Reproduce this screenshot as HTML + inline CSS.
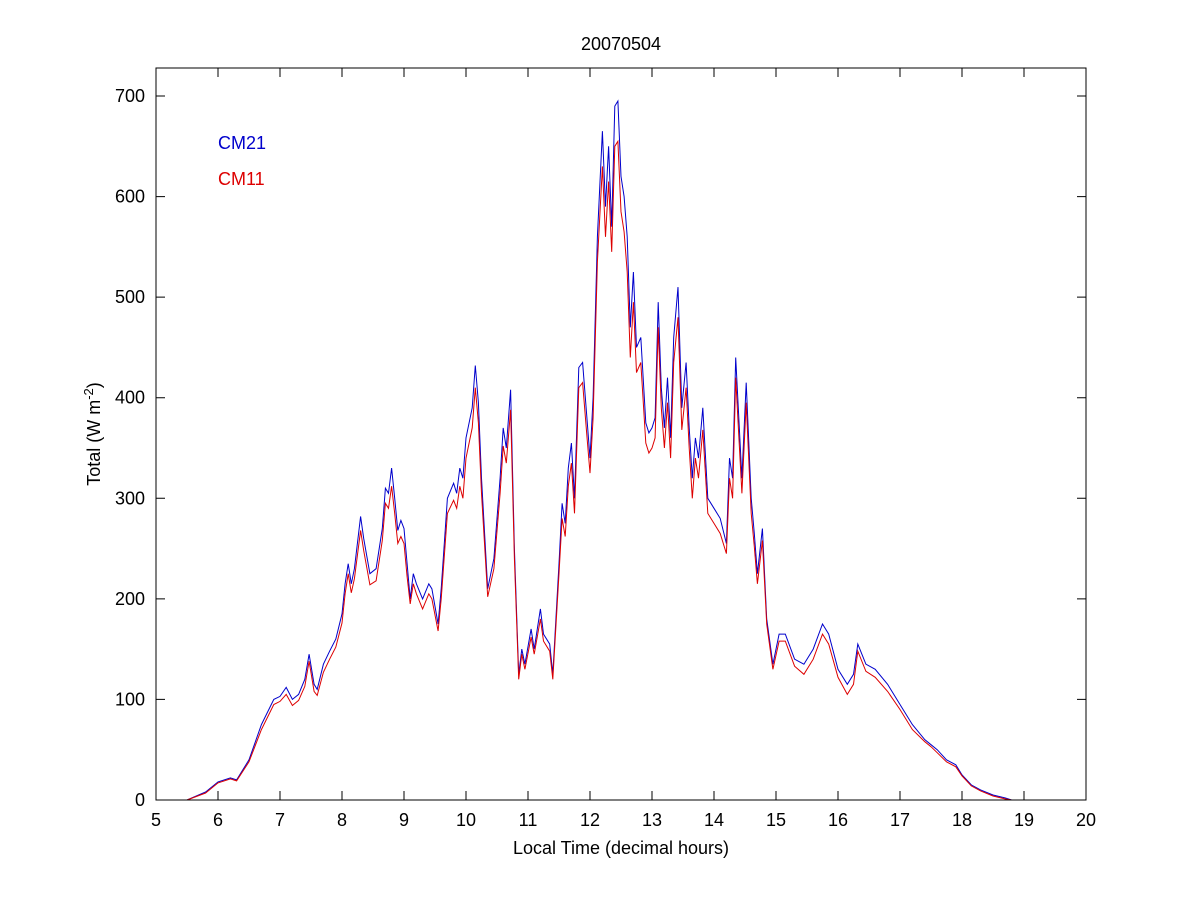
<!DOCTYPE html>
<html><head><meta charset="utf-8">
<style>
html,body{margin:0;padding:0;background:#fff;}
svg{display:block;font-family:"Liberation Sans",Arial,sans-serif;}
</style></head>
<body>
<svg id="chart" width="1200" height="900" viewBox="0 0 1200 900" xmlns="http://www.w3.org/2000/svg">
<rect x="0" y="0" width="1200" height="900" fill="#fff"/>
<text x="621" y="50" font-size="18" text-anchor="middle">20070504</text>
<g id="grid"></g>
<g id="series"></g>
<rect x="156" y="68" width="930" height="732" fill="none" stroke="#000" stroke-width="1"/>
<g id="ticks"></g>
<text x="621" y="854" font-size="18" text-anchor="middle">Local Time (decimal hours)</text>
<text transform="translate(100,434) rotate(-90)" font-size="18" text-anchor="middle">Total (W m<tspan dy="-7" font-size="13">-2</tspan><tspan dy="7">)</tspan></text>
<text x="218" y="149" font-size="18" fill="#0000cc">CM21</text>
<text x="218" y="185" font-size="18" fill="#dd0000">CM11</text>
</svg>
<script>
const xTicks=[5,6,7,8,9,10,11,12,13,14,15,16,17,18,19,20];
const yTicks=[0,100,200,300,400,500,600,700];
const times=[5.5,5.8,6.0,6.2,6.3,6.5,6.7,6.9,7.0,7.1,7.2,7.3,7.4,7.47,7.55,7.6,7.7,7.8,7.9,8.0,8.05,8.1,8.15,8.2,8.3,8.35,8.45,8.55,8.65,8.7,8.75,8.8,8.85,8.9,8.95,9.0,9.05,9.1,9.15,9.2,9.3,9.4,9.45,9.55,9.6,9.7,9.8,9.85,9.9,9.95,10.0,10.1,10.15,10.2,10.25,10.35,10.45,10.55,10.6,10.65,10.72,10.78,10.85,10.9,10.95,11.05,11.1,11.2,11.25,11.35,11.4,11.5,11.55,11.6,11.65,11.7,11.75,11.82,11.88,11.95,12.0,12.05,12.12,12.2,12.25,12.3,12.35,12.4,12.45,12.5,12.55,12.6,12.65,12.7,12.75,12.82,12.9,12.95,13.0,13.05,13.1,13.15,13.2,13.25,13.3,13.35,13.42,13.48,13.55,13.6,13.65,13.7,13.75,13.82,13.9,14.0,14.1,14.2,14.25,14.3,14.35,14.4,14.45,14.52,14.6,14.65,14.7,14.78,14.85,14.95,15.05,15.15,15.3,15.45,15.6,15.75,15.85,16.0,16.15,16.25,16.32,16.45,16.6,16.8,17.0,17.2,17.4,17.5,17.6,17.75,17.9,18.0,18.15,18.3,18.5,18.7,18.8];
const cm21=[0,8,18,22,20,40,75,100,103,112,100,105,120,145,115,110,135,148,160,185,215,235,215,230,282,260,225,230,270,310,305,330,300,268,278,270,235,200,225,215,200,215,210,175,210,300,315,305,330,320,360,390,432,395,320,210,240,320,370,350,408,250,125,150,135,170,150,190,165,155,125,235,295,275,330,355,300,430,435,380,340,400,560,665,590,650,570,690,695,620,600,560,470,525,450,460,375,365,370,380,495,410,370,420,360,460,510,390,435,370,320,360,340,390,300,290,280,255,340,320,440,380,320,415,300,265,225,270,180,135,165,165,140,135,150,175,165,130,115,125,155,135,130,115,95,75,60,55,50,40,35,25,15,10,5,2,0];
const cm11=[0,7,17,21,19,38,70,95,98,105,94,99,113,138,108,104,127,140,152,176,205,225,206,220,268,248,214,218,258,295,290,312,285,255,262,255,222,195,215,205,190,205,200,168,200,285,298,290,312,300,340,370,410,375,305,202,230,305,352,335,388,240,120,145,130,162,145,180,158,148,120,225,280,262,312,335,285,410,415,362,325,380,535,630,560,615,545,650,655,585,565,525,440,495,425,435,355,345,350,360,470,390,350,395,340,435,480,368,410,350,300,340,320,368,285,275,265,245,320,300,420,362,305,395,285,252,215,258,175,130,158,158,133,125,140,165,155,122,105,115,148,128,122,108,90,70,58,53,47,38,33,24,14,9,4,1,0];
const X=t=>156+(t-5)*62;
const Y=v=>800-v*(704/700);
const NS='http://www.w3.org/2000/svg';
const tk=document.getElementById('ticks');
xTicks.forEach(t=>{
  const x=X(t);
  const l=document.createElementNS(NS,'path');
  l.setAttribute('d',`M${x},800V791M${x},68V77`);
  l.setAttribute('stroke','#000');
  
  
  tk.appendChild(l);
  const tx=document.createElementNS(NS,'text');
  tx.setAttribute('x',x);tx.setAttribute('y',826);
  tx.setAttribute('font-size','18');tx.setAttribute('text-anchor','middle');
  tx.textContent=t;
  
  
  tk.appendChild(tx);
});
yTicks.forEach(v=>{
  const y=Y(v);
  const l=document.createElementNS(NS,'path');
  l.setAttribute('d',`M156,${y}H165M1086,${y}H1077`);
  l.setAttribute('stroke','#000');
  
  
  tk.appendChild(l);
  const tx=document.createElementNS(NS,'text');
  tx.setAttribute('x',145);tx.setAttribute('y',y+6);
  tx.setAttribute('font-size','18');tx.setAttribute('text-anchor','end');
  tx.textContent=v;
  
  
  tk.appendChild(tx);
});
const sg=document.getElementById('series');
function line(vals,color,name){
  const p=document.createElementNS(NS,'path');
  p.setAttribute('d',vals.map((v,i)=>(i?'L':'M')+X(times[i]).toFixed(1)+','+Y(v).toFixed(1)).join(''));
  p.setAttribute('fill','none');p.setAttribute('stroke',color);p.setAttribute('stroke-width','1');
  
  
  sg.appendChild(p);
}
line(cm21,'#0000cc','cm21-line');
line(cm11,'#dd0000','cm11-line');
</script>
</body></html>
